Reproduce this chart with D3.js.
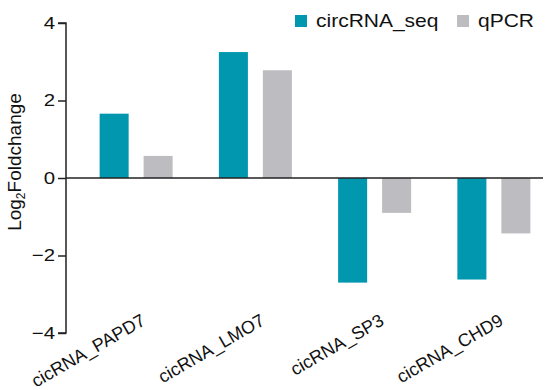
<!DOCTYPE html>
<html>
<head>
<meta charset="utf-8">
<script src="https://cdn.jsdelivr.net/npm/d3@7"></script>
<style>
  body { margin: 0; background: #fff; }
  svg { display: block; font-family: "Liberation Sans", Arial, sans-serif; }
</style>
</head>
<body>
<svg id="chart" width="550" height="390"></svg>
<script>
// data
const genes = ["cicRNA_PAPD7", "cicRNA_LMO7", "cicRNA_SP3", "cicRNA_CHD9"];
const seriesNames = ["circRNA_seq", "qPCR"];
const seqValues = [1.66, 3.25, -2.70, -2.62];
const qpcrValues = [0.57, 2.78, -0.90, -1.43];
const yTicks = [-4, -2, 0, 2, 4];
const colors = ["#0097af", "#bdbcc1"];

const svg = d3.select("#chart");
const axisX = 66;
// the original figure is a bit wider than tall, so its text looks stretched
const stretch = "scale(1.2,1)";

const y = d3.scaleLinear().domain([-4, 4]).range([333, 23]);
const x = d3.scaleBand().domain(genes).range([77, 554]).padding(0);
// inner scale relative to group centre
const xi = d3.scaleBand().domain(seriesNames).range([-37, 36]).paddingInner(0.34);

const rows = genes.map((g, i) => ({ gene: g, vals: [seqValues[i], qpcrValues[i]] }));

// bars
const groups = svg.append("g").selectAll("g")
  .data(rows).join("g")
  .attr("transform", d => `translate(${x(d.gene) + x.bandwidth() / 2},0)`);

groups.selectAll("rect")
  .data(d => d.vals.map((v, j) => ({ key: seriesNames[j], v, j })))
  .join("rect")
  .attr("x", d => xi(d.key))
  .attr("width", xi.bandwidth())
  .attr("y", d => y(Math.max(0, d.v)))
  .attr("height", d => Math.abs(y(d.v) - y(0)))
  .attr("fill", d => colors[d.j]);

// zero line
svg.append("line")
  .attr("x1", axisX).attr("x2", 543)
  .attr("y1", y(0)).attr("y2", y(0))
  .attr("stroke", "#222").attr("stroke-width", 1.5);

// y axis
const yAxis = svg.append("g")
  .attr("transform", `translate(${axisX},0)`)
  .call(d3.axisLeft(y).tickValues(yTicks).tickSize(8).tickPadding(3)
    .tickFormat(d => d < 0 ? "\u2212" + Math.abs(d) : d));
yAxis.attr("font-size", null).attr("font-family", null);
yAxis.select(".domain").attr("stroke", "#222").attr("stroke-width", 1.5)
  .attr("d", `M-8,${y(4)}H0V${y(-4)}H-8`);
yAxis.selectAll(".tick line").attr("stroke", "#222").attr("stroke-width", 1.5);
yAxis.selectAll(".tick text")
  .attr("x", 0)
  .attr("transform", `translate(-11,0) ${stretch}`)
  .style("font-size", "17px")
  .attr("fill", "#111");

// y title
svg.append("text")
  .attr("transform", `translate(21,${y(0) - 16}) rotate(-90)`)
  .attr("text-anchor", "middle")
  .style("font-size", "19px")
  .attr("fill", "#111")
  .html('Log<tspan style="font-size:12px" dy="4">2</tspan><tspan dy="-4">Foldchange</tspan>');

// x labels
svg.append("g").selectAll("text")
  .data(genes).join("text")
  .attr("transform", d => `translate(${x(d) + x.bandwidth() / 2 + 10},324) rotate(-30)`)
  .attr("text-anchor", "end")
  .style("font-size", "18px")
  .attr("fill", "#111")
  .text(d => d);

// legend
const legend = svg.append("g").selectAll("g")
  .data(seriesNames).join("g")
  .attr("transform", (d, i) => `translate(${i === 0 ? 295 : 457},15)`);
legend.append("rect")
  .attr("width", 12).attr("height", 12)
  .attr("fill", (d, i) => colors[i]);
legend.append("text")
  .attr("transform", `translate(21,12) ${stretch}`)
  .style("font-size", "17.5px")
  .attr("fill", "#111")
  .text(d => d);
</script>
</body>
</html>
